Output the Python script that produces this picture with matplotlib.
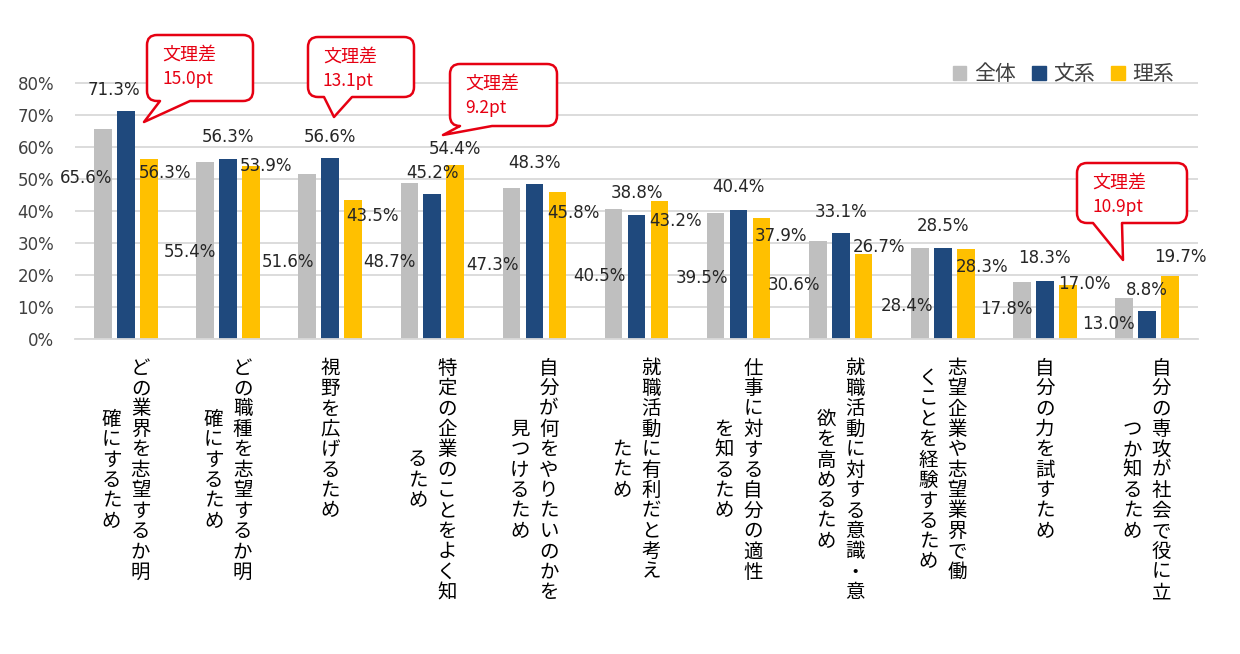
import matplotlib.pyplot as plt
import numpy as np
from matplotlib.patches import Patch, PathPatch
from matplotlib.path import Path

# column break in the vertical labels is marked with "\n"
categories = [
    "どの業界を志望するか明\n確にするため",
    "どの職種を志望するか明\n確にするため",
    "視野を広げるため",
    "特定の企業のことをよく知\nるため",
    "自分が何をやりたいのかを\n見つけるため",
    "就職活動に有利だと考え\nたため",
    "仕事に対する自分の適性\nを知るため",
    "就職活動に対する意識・意\n欲を高めるため",
    "志望企業や志望業界で働\nくことを経験するため",
    "自分の力を試すため",
    "自分の専攻が社会で役に立\nつか知るため",
]
series_names = ["全体", "文系", "理系"]
zentai = [65.6, 55.4, 51.6, 48.7, 47.3, 40.5, 39.5, 30.6, 28.4, 17.8, 13.0]
bunkei = [71.3, 56.3, 56.6, 45.2, 48.3, 38.8, 40.4, 33.1, 28.5, 18.3, 8.8]
rikei = [56.3, 53.9, 43.5, 54.4, 45.8, 43.2, 37.9, 26.7, 28.3, 17.0, 19.7]
callout_cats = [0, 2, 3, 10]

colors = ["#BFBFBF", "#1F497D", "#FFC000"]
red = "#E60012"
jp = ["Noto Sans CJK JP", "DejaVu Sans"]

# data label placement (offset from group centre, y in %), copied from the original layout
lab_pos = [
    [(-0.39, 50.2), (-0.37, 27.3), (-0.41, 24.0), (-0.42, 24.0), (-0.41, 23.2), (-0.36, 19.7),
     (-0.36, 19.0), (-0.46, 16.9), (-0.35, 10.4), (-0.38, 9.3), (-0.38, 4.8)],
    [(-0.12, 77.7), (0, 63.0), (0, 63.2), (0, 51.9), (0, 55.0), (0, 45.7),
     (0, 47.4), (0, 39.8), (0, 35.3), (0, 25.2), (0, 15.4)],
    [(0.38, 51.9), (0.37, 54.0), (0.41, 38.4), (0.22, 59.2), (0.38, 39.5), (0.38, 37.0),
     (0.41, 32.2), (0.38, 28.7), (0.38, 22.4), (0.39, 17.2), (0.33, 25.6)],
]

W, H = 1240, 654
fig = plt.figure(figsize=(W / 100, H / 100), dpi=100)
ymax = 80.5
y0px, pxper = 339.3, 3.208
ax = fig.add_axes([75 / W, 1 - y0px / H, (1198 - 75) / W, ymax * pxper / H])

x = np.arange(len(categories))
step, width = 0.225, 0.173
for k, (vals, col, name) in enumerate(zip([zentai, bunkei, rikei], colors, series_names)):
    ax.bar(x + (k - 1) * step, vals, width, color=col, label=name, zorder=2)
    for i, (v, (dx, yy)) in enumerate(zip(vals, lab_pos[k])):
        ax.text(i + dx, yy, f"{v:.1f}%", ha="center", va="center", fontsize=12,
                color="#262626", zorder=4)

ax.set_xlim(-0.5, len(categories) - 0.5)
ax.set_ylim(0, ymax)
ax.set_yticks(np.arange(0, 81, 10))
ax.yaxis.set_major_formatter(lambda v, p: f"{v:.0f}%")
ax.tick_params(axis="y", length=0, pad=15, labelsize=12, labelcolor="#404040")
ax.set_xticks([])
ax.yaxis.grid(True, color="#D9D9D9", lw=1.3, zorder=0)
ax.set_axisbelow(True)
for s in ["top", "right", "left"]:
    ax.spines[s].set_visible(False)
ax.spines["bottom"].set_color("#D9D9D9")
ax.spines["bottom"].set_linewidth(1.3)

# vertical (tategaki) category labels, one glyph at a time
pitch, colgap, top = 20.4, 29, 18.7
for i, lab in enumerate(categories):
    cols = lab.split("\n")
    nmax = max(len(c) for c in cols)
    for j, col in enumerate(cols):
        xoff = ((len(cols) - 1) / 2 - j) * colgap
        ystart = top + (nmax - len(col)) / 2 * pitch
        for k, ch in enumerate(col):
            ax.annotate(ch, xy=(i, 0), xytext=(xoff * 0.72, -(ystart + (k + 0.5) * pitch) * 0.72),
                        textcoords="offset points", ha="center", va="center",
                        fontsize=14, family=jp, color="#000000", annotation_clip=False)

handles = [Patch(color=c, label=n) for c, n in zip(colors, series_names)]
ax.legend(handles=handles, ncol=3, loc="center right", bbox_to_anchor=(1174 / W, 1 - 74 / H),
          bbox_transform=fig.transFigure, frameon=False, prop={"family": jp, "size": 15},
          handlelength=0.65, handleheight=0.65, handletextpad=0.35, columnspacing=0.8,
          borderpad=0, borderaxespad=0, labelcolor="#404040")

# speech-bubble callouts in pixel coordinates
ov = fig.add_axes([0, 0, 1, 1], zorder=5)
ov.set_xlim(0, W)
ov.set_ylim(H, 0)
ov.axis("off")
ov.patch.set_visible(False)

boxes = [
    (147, 35, 253, 101, 160, 190, 144, 122),
    (308, 37, 414, 97, 324, 352, 334, 117),
    (450, 64, 557, 126, 460, 492, 443, 135),
    (1077, 163, 1187, 223, 1093, 1122, 1123, 260),
]
M, L, C, CL = Path.MOVETO, Path.LINETO, Path.CURVE3, Path.CLOSEPOLY
r = 10
for ci, (x0, y0, x1, y1, ba, bb, tx, ty) in zip(callout_cats, boxes):
    verts = [(x0 + r, y0), (x1 - r, y0), (x1, y0), (x1, y0 + r), (x1, y1 - r), (x1, y1),
             (x1 - r, y1), (bb, y1), (tx, ty), (ba, y1), (x0 + r, y1), (x0, y1), (x0, y1 - r),
             (x0, y0 + r), (x0, y0), (x0 + r, y0), (x0 + r, y0)]
    codes = [M, L, C, C, L, C, C, L, L, L, L, C, C, L, C, C, CL]
    ov.add_patch(PathPatch(Path(verts, codes), facecolor="white", edgecolor=red, lw=1.8,
                           joinstyle="round"))
    diff = abs(bunkei[ci] - rikei[ci])
    ov.text(x0 + 15, y0 + 20, "文理差", color=red, fontsize=13, family=jp, va="center")
    ov.text(x0 + 15, y0 + 44, f"{diff:.1f}pt", color=red, fontsize=12.5, family=jp, va="center")

fig.savefig("out.png", dpi=100)
